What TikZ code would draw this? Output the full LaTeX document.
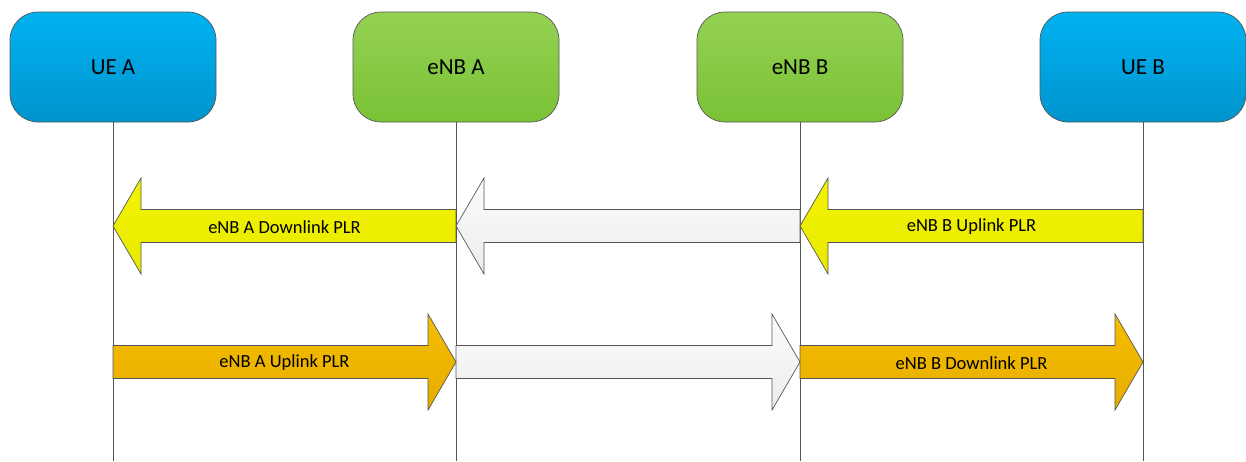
\documentclass[tikz,border=0pt]{standalone}
\usepackage{fontspec}
\setmainfont{Carlito}
\usetikzlibrary{calc}

\definecolor{linegray}{HTML}{555555}
\definecolor{ueTop}{HTML}{00B2F0}
\definecolor{ueBot}{HTML}{0094CE}
\definecolor{enbTop}{HTML}{94D152}
\definecolor{enbBot}{HTML}{7AC236}
\definecolor{ylwTop}{HTML}{F3F300}
\definecolor{ylwBot}{HTML}{E9E900}
\definecolor{orgTop}{HTML}{F6BE00}
\definecolor{orgBot}{HTML}{E6AC00}
\definecolor{gryTop}{HTML}{FCFCFC}
\definecolor{gryBot}{HTML}{ECECEC}

\tikzset{
  actor/.style={draw=linegray, line width=0.7pt, rounded corners=28pt,
    minimum width=206pt, minimum height=110pt, inner sep=0pt,
    font=\fontsize{23}{27}\selectfont},
  ue/.style={actor, top color=ueTop, bottom color=ueBot},
  enb/.style={actor, top color=enbTop, bottom color=enbBot},
  lifeline/.style={draw=linegray, line width=0.7pt},
  blk/.style={draw=linegray, line width=0.7pt},
  ylw/.style={top color=ylwTop, bottom color=ylwBot},
  org/.style={top color=orgTop, bottom color=orgBot},
  gry/.style={top color=gryTop, bottom color=gryBot},
  msg/.style={font=\fontsize{18.5}{22}\selectfont, inner sep=0pt}
}

% block arrow: tail, tip, style
\newcommand{\blockarrow}[3]{%
  \path[blk,#3] ($(#1)+(0,-16.5)$) -- ($(#2)!28pt!(#1)+(0,-16.5)$)
    -- ($(#2)!28pt!(#1)+(0,-48)$) -- (#2) -- ($(#2)!28pt!(#1)+(0,48)$)
    -- ($(#2)!28pt!(#1)+(0,16.5)$) -- ($(#1)+(0,16.5)$) -- cycle;}

\begin{document}
\begin{tikzpicture}[x=1pt,y=-1pt]
\useasboundingbox (0,0) rectangle (1246,461);

\node[ue]  (ueA)  at (113,67) {UE A};
\node[enb] (enbA) at (456,67) {eNB A};
\node[enb] (enbB) at (800,67) {eNB B};
\node[ue]  (ueB)  at (1143,67) {UE B};

\coordinate (row1) at (0,226);
\coordinate (row2) at (0,362);
\coordinate (bot) at (0,461);

%lifelines
\foreach \n in {ueA,enbA,enbB,ueB} {
  \coordinate (\n-r1) at (\n.south |- row1);
  \coordinate (\n-r2) at (\n.south |- row2);
  \draw[lifeline] (\n.south) -- (\n.south |- bot);
}

%downlink row
\blockarrow{enbB-r1}{enbA-r1}{gry}
\blockarrow{enbA-r1}{ueA-r1}{ylw}
\blockarrow{ueB-r1}{enbB-r1}{ylw}
\node[msg] (dlA) at ($(ueA-r1)!0.5!(enbA-r1)+(0,1)$) {eNB A Downlink PLR};
\node[msg] (ulB) at ($(enbB-r1)!0.5!(ueB-r1)+(0,1)$) {eNB B Uplink PLR};

%uplink row
\blockarrow{enbA-r2}{enbB-r2}{gry}
\blockarrow{ueA-r2}{enbA-r2}{org}
\blockarrow{enbB-r2}{ueB-r2}{org}
\node[msg] (ulA) at ($(ueA-r2)!0.5!(enbA-r2)+(0,1)$) {eNB A Uplink PLR};
\node[msg] (dlB) at ($(enbB-r2)!0.5!(ueB-r2)+(0,1)$) {eNB B Downlink PLR};
\end{tikzpicture}
\end{document}
